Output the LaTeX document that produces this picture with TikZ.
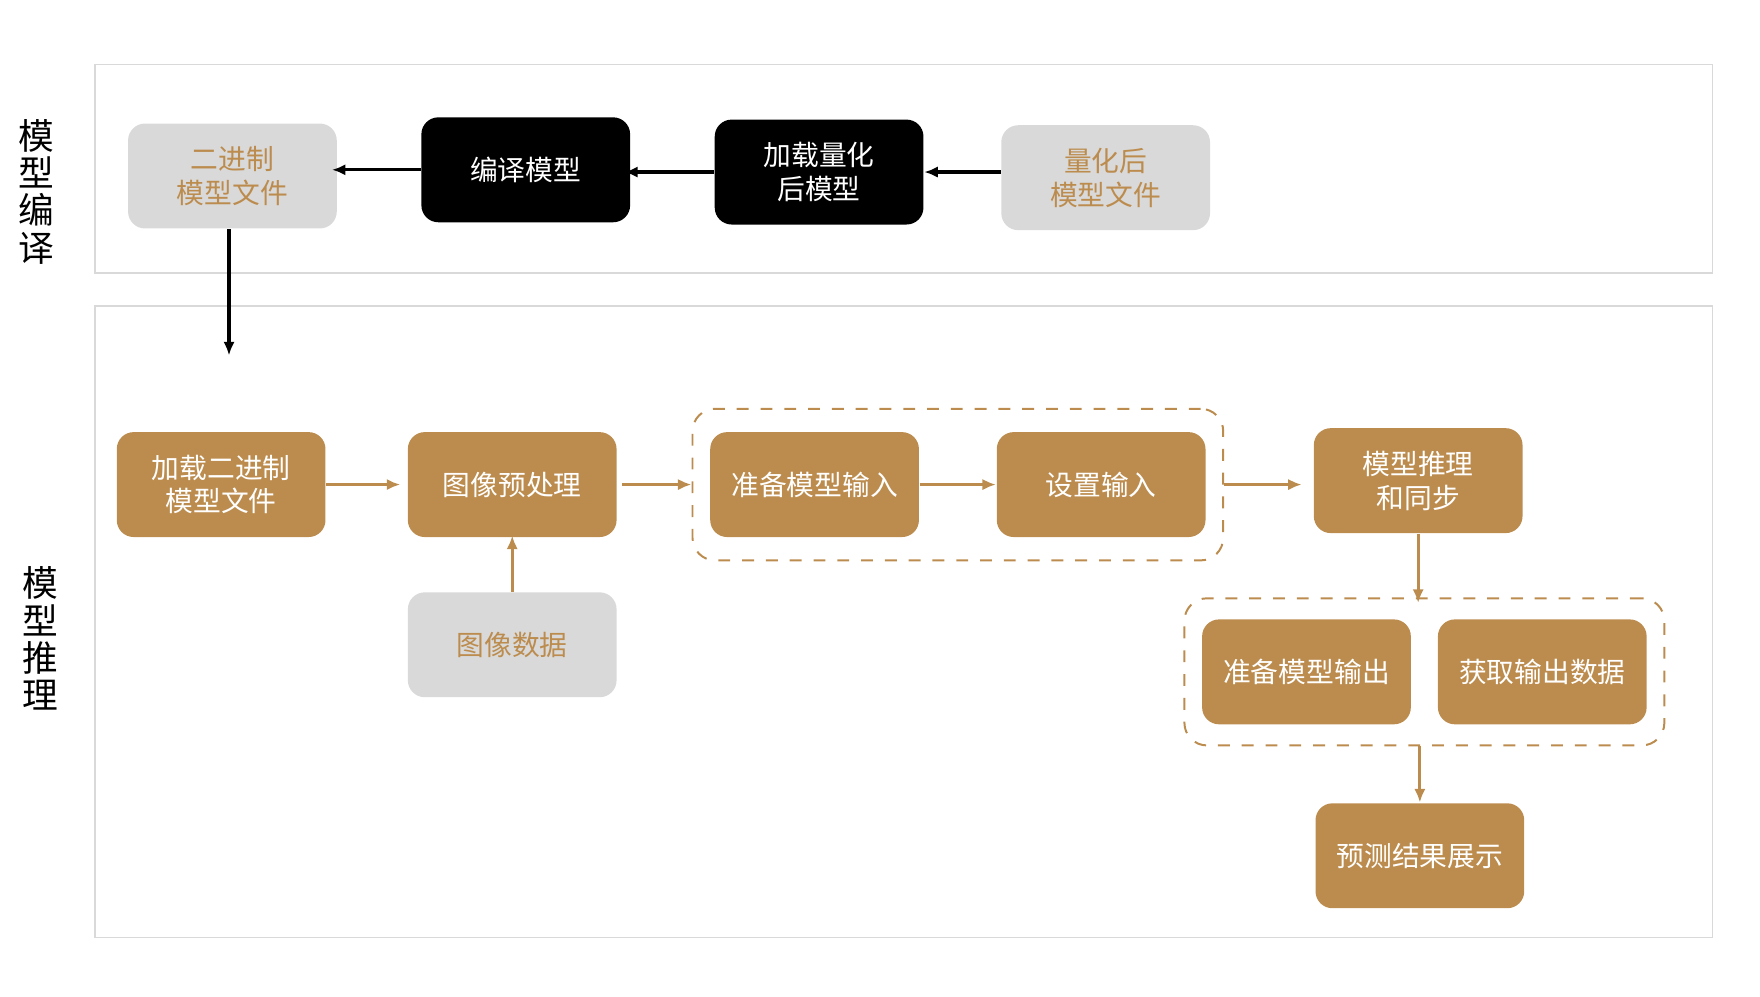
\documentclass[tikz,border=0pt]{standalone}
\usepackage{fontspec}
\setmainfont{Noto Sans CJK SC}
\usetikzlibrary{arrows.meta,positioning,fit}
\definecolor{gold}{HTML}{BC8C4E}
\definecolor{lgray}{HTML}{D9D9D9}
\begin{document}
\begin{tikzpicture}
[x=1cm,y=-1cm,
stage/.style={rectangle, rounded corners=1.5mm, fill=gold, text=white, minimum width=1.85cm, minimum height=0.93cm, align=center, font=\fontsize{7}{8.5}\selectfont},
blk/.style={stage, fill=black},
file/.style={stage, fill=lgray, text=gold},
frame/.style={draw=black!15, line width=0.4pt},
grp/.style={draw=gold, dashed, rounded corners=2mm, line width=0.5pt},
side/.style={align=center, font=\fontsize{9}{9.4}\selectfont},
>/.tip={Latex[length=1.2mm, width=1mm]}]

	\useasboundingbox (0,0) rectangle (15.6,8.83);

	\draw[frame] (0.84,0.57) rectangle (15.18,2.42);
	\draw[frame] (0.84,2.71) rectangle (15.18,8.31);
	\node (labcomp) [side] at (0.32,1.70) {模\\型\\编\\译};
	\node (labinf) [side] at (0.36,5.66) {模\\型\\推\\理};

	\node (bin) at (2.06,1.56) [file] {二进制\\模型文件};
	\node (comp) at (4.66,1.505) [blk] {编译模型};
	\node (loadq) at (7.26,1.525) [blk] {加载量化\\后模型};
	\node (qfile) at (9.80,1.575) [file] {量化后\\模型文件};

	\node (loadbin) at (1.96,4.295) [stage] {加载二进制\\模型文件};
	\node (pre) at (4.54,4.295) [stage] {图像预处理};
	\node (img) at (4.54,5.715) [file] {图像数据};
	\node (inprep) at (7.22,4.295) [stage] {准备模型输入};
	\node (inset) at (9.76,4.295) [stage] {设置输入};
	\node (infer) at (12.57,4.26) [stage] {模型推理\\和同步};
	\node (outprep) at (11.58,5.955) [stage] {准备模型输出};
	\node (outget) at (13.67,5.955) [stage] {获取输出数据};
	\node (show) at (12.585,7.585) [stage] {预测结果展示};

	\node (ingrp) [grp, fit=(inprep) (inset), inner xsep=0.15cm, inner ysep=0.2cm] {};
	\node (outgrp) [grp, fit=(outprep) (outget), inner xsep=0.15cm, inner ysep=0.18cm] {};

	\coordinate (binend) at (2.03,3.15);

	\draw[->, thick] (comp.west) -- ([xshift=-0.5mm]bin.east |- comp.west);
	\draw[->, thick] (loadq.west) -- ([xshift=-0.6mm]comp.east |- loadq.west);
	\draw[->, thick] (qfile.west |- loadq.east) -- (loadq.east);
	\draw[->, thick] (bin.south -| binend) -- (binend);

	\draw[->, gold, thick] (loadbin) -- ([xshift=-0.6mm]pre.west);
	\draw[->, gold, thick] ([xshift=0.4mm]pre.east) -- (ingrp.west |- pre.east);
	\draw[->, gold, thick] (img) -- ([yshift=0.2mm]pre.south);
	\draw[->, gold, thick] (inprep) -- (inset);
	\draw[->, gold, thick] (ingrp.east) -- ([xshift=-1mm]infer.west |- ingrp.east);
	\draw[->, gold, thick] (infer.south) -- ([yshift=-0.5mm]infer.south |- outgrp.north);
	\draw[->, gold, thick] (outgrp.south -| show.north) -- (show.north);
\end{tikzpicture}
\end{document}
